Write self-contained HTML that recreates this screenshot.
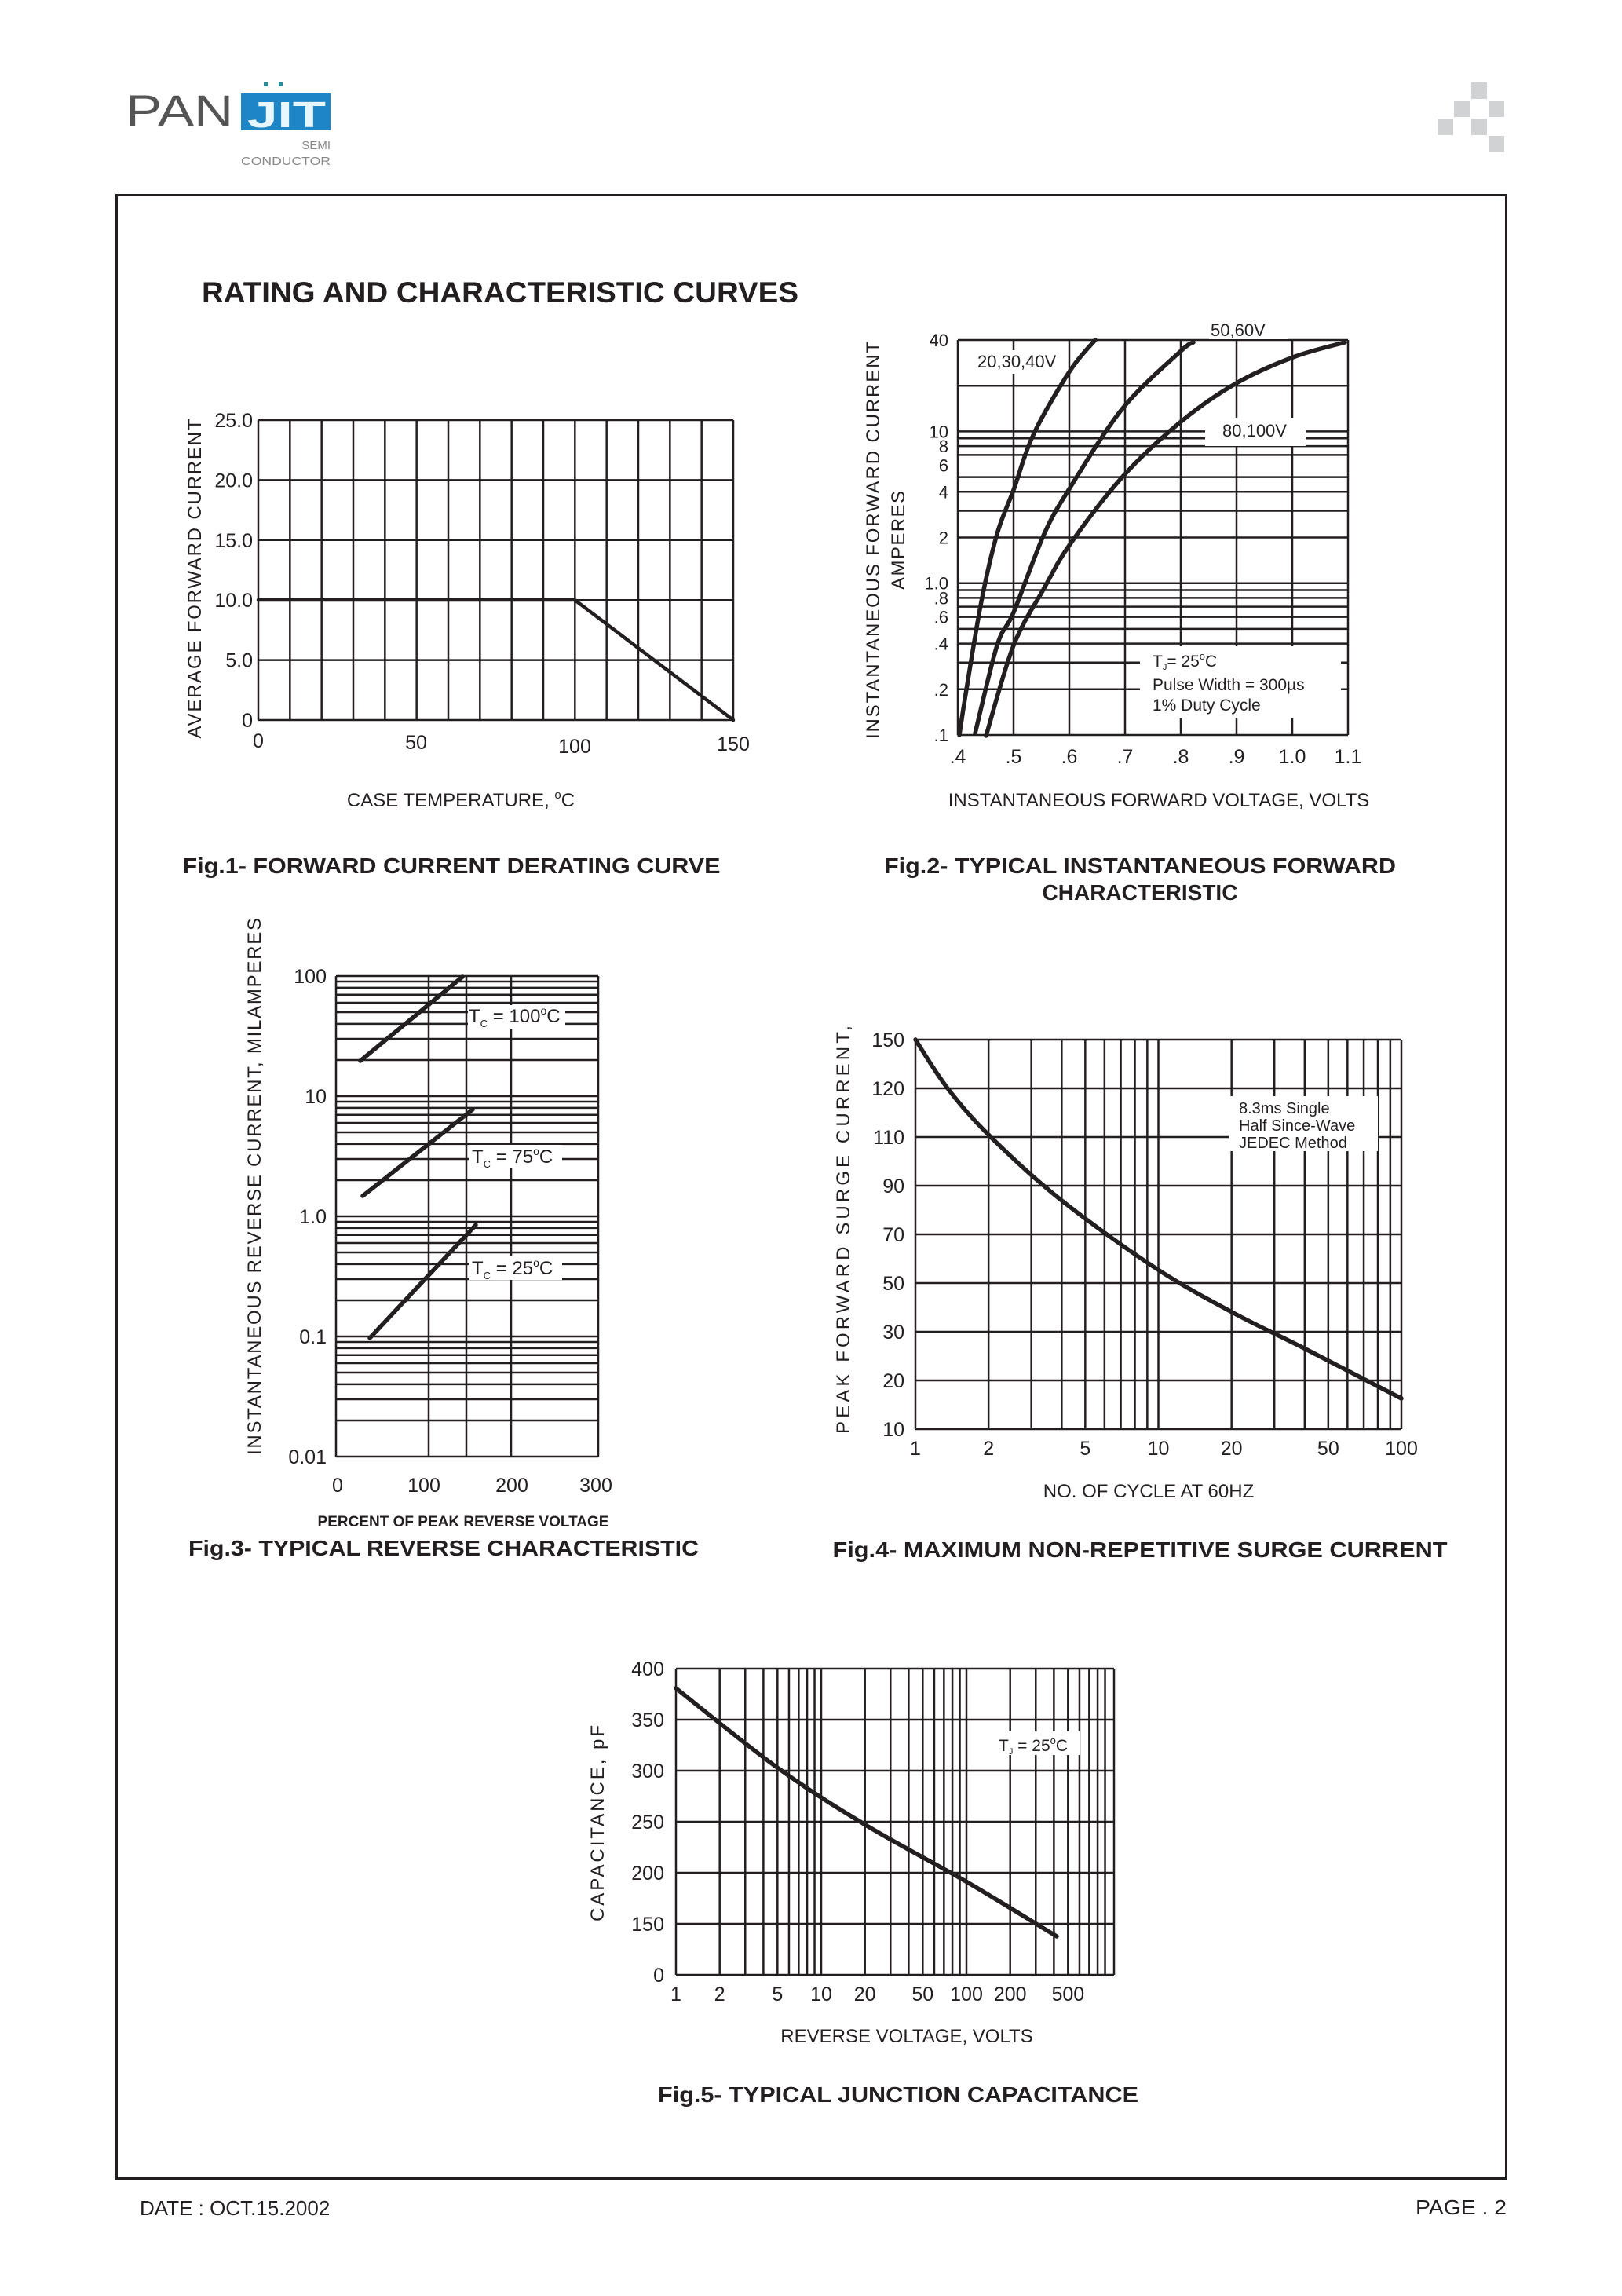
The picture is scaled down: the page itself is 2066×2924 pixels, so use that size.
<!DOCTYPE html>
<html><head><meta charset="utf-8">
<style>
html,body{margin:0;padding:0;background:#fff;}
svg{display:block;}
text{font-family:"Liberation Sans",Arial,sans-serif;fill:#231f20;}
.b{font-weight:bold;}
</style></head>
<body>
<svg id="s" xmlns="http://www.w3.org/2000/svg" width="2066" height="2924" viewBox="0 0 2066 2924">
<rect width="2066" height="2924" fill="#fff"/>
<text x="160" y="160" font-size="56" style="fill:#555" textLength="137" lengthAdjust="spacingAndGlyphs">PAN</text>
<rect x="307" y="119" width="114" height="47" fill="#1e86c6"/>
<text x="315" y="162" font-size="46" class="b" style="fill:#e8f6ff" textLength="100" lengthAdjust="spacingAndGlyphs">JIT</text>
<rect x="336" y="104" width="5" height="6" fill="#2a8a9a"/><rect x="355" y="104" width="5" height="6" fill="#2a8a9a"/>
<text x="421" y="190" font-size="15" text-anchor="end" style="fill:#888">SEMI</text>
<text x="421" y="210" font-size="15" text-anchor="end" style="fill:#888" textLength="114" lengthAdjust="spacingAndGlyphs">CONDUCTOR</text>
<g fill="#d1d2d4">
<rect x="1874" y="105" width="20" height="21"/><rect x="1852" y="128" width="20" height="21"/><rect x="1896" y="128" width="20" height="21"/>
<rect x="1831" y="151" width="20" height="21"/><rect x="1874" y="151" width="20" height="21"/><rect x="1896" y="173" width="20" height="21"/>
</g>
<rect x="148.5" y="248.5" width="1770" height="2526" fill="none" stroke="#231f20" stroke-width="3"/>
<text x="257" y="385" font-size="37" class="b" textLength="760" lengthAdjust="spacingAndGlyphs">RATING AND CHARACTERISTIC CURVES</text>
<g id="g"></g>
<text x="178" y="2821" font-size="26">DATE : OCT.15.2002</text>
<text x="1919" y="2820" font-size="26" text-anchor="end" textLength="116" lengthAdjust="spacingAndGlyphs">PAGE . 2</text>
</svg>
<script>
var g=document.getElementById('g'),out='';
function L(x1,y1,x2,y2,w){out+='<line x1="'+x1+'" y1="'+y1+'" x2="'+x2+'" y2="'+y2+'" stroke="#231f20" stroke-width="'+(w||2.5)+'"/>';}
function T(x,y,s,fs,anc,extra){out+='<text x="'+x+'" y="'+y+'" font-size="'+fs+'" text-anchor="'+(anc||'start')+'" '+(extra||'')+'>'+s+'</text>';}
function R(x,y,w,h){out+='<rect x="'+x+'" y="'+y+'" width="'+w+'" height="'+h+'" fill="#fff"/>';}
function P(pts,w){var d='M'+pts[0][0]+','+pts[0][1];for(var i=1;i<pts.length;i++){d+=' L'+pts[i][0]+','+pts[i][1];}
 out+='<path d="'+d+'" fill="none" stroke="#231f20" stroke-width="'+(w||5.5)+'" stroke-linejoin="round" stroke-linecap="round"/>';}
function smooth(pts,w){var d='M'+pts[0][0]+','+pts[0][1];for(var i=0;i<pts.length-1;i++){var p0=pts[i>0?i-1:i],p1=pts[i],p2=pts[i+1],p3=pts[i+2<pts.length?i+2:i+1];
 d+=' C'+(p1[0]+(p2[0]-p0[0])/6)+','+(p1[1]+(p2[1]-p0[1])/6)+' '+(p2[0]-(p3[0]-p1[0])/6)+','+(p2[1]-(p3[1]-p1[1])/6)+' '+p2[0]+','+p2[1];}
 out+='<path d="'+d+'" fill="none" stroke="#231f20" stroke-width="'+(w||5.5)+'" stroke-linecap="round"/>';}
function VT(x,y,s,fs,len){out+='<text transform="translate('+x+','+y+') rotate(-90)" font-size="'+fs+'" text-anchor="middle" textLength="'+len+'" lengthAdjust="spacing">'+s+'</text>';}
var i,j,x,y,d;
// Fig1
var l=329,r=934,t=535,b=917;
for(i=0;i<=15;i++){x=l+(r-l)*i/15;L(x,t,x,b);}
for(i=0;i<=5;i++){y=t+(b-t)*i/5;L(l,y,r,y);}
var yl=['25.0','20.0','15.0','10.0','5.0','0'];
for(i=0;i<=5;i++)T(322,t+(b-t)*i/5+9,yl[i],25,'end');
T(329,952,'0',25,'middle');T(530,954,'50',25,'middle');T(732,959,'100',25,'middle');T(934,956,'150',25,'middle');
P([[l,764],[732,764],[r,b]],4.5);
VT(256,737,'AVERAGE FORWARD CURRENT',24,407);
T(587,1027,'CASE TEMPERATURE, <tspan font-size="15" dy="-10">o</tspan><tspan dy="10">C</tspan>',24,'middle');
T(575,1112,'Fig.1- FORWARD CURRENT DERATING CURVE',28,'middle','class="b" textLength="685" lengthAdjust="spacingAndGlyphs"');
// Fig2
l=1220;r=1717;t=433;b=936;var dec=(b-t)/Math.log10(400);
function fy(v){return b-Math.log10(v/0.1)*dec;}
for(i=0;i<=7;i++){x=l+71*i;L(x,t,x,b);}
[40,20,10,9,8,7,5,4,3,2,1,.9,.8,.7,.6,.5,.4,.3,.2,.1].forEach(function(v){L(l,fy(v),r,fy(v));});
[['40',40],['10',10],['8',8],['6',6],['4',4],['2',2],['1.0',1],['.8',.8],['.6',.6],['.4',.4],['.2',.2],['.1',.1]].forEach(function(a){T(1208,fy(a[1])+8,a[0],22,'end');});
['.4','.5','.6','.7','.8','.9','1.0','1.1'].forEach(function(s,k){T(l+71*k,972,s,25,'middle');});
smooth([[1222,936],[1230,884],[1250,766],[1270,680],[1291,624],[1317,552],[1363,472],[1395,433]]);
smooth([[1242,934],[1270,822],[1291,780],[1330,680],[1363,621],[1430,520],[1503,448],[1520,436]]);
smooth([[1256,937],[1291,822],[1330,749],[1363,693],[1430,607],[1503,538],[1573,489],[1647,455],[1713,436]]);
R(1238,446,112,30);T(1245,468,'20,30,40V',22);
R(1540,406,100,26);T(1542,428,'50,60V',22);
R(1535,532,128,36);T(1557,556,'80,100V',22);
R(1452,823,256,92);
T(1468,849,'T<tspan font-size="11" dy="4">J</tspan><tspan dy="-4">= 25</tspan><tspan font-size="13" dy="-9">o</tspan><tspan dy="9">C</tspan>',21);
T(1468,879,'Pulse Width = 300µs',21);T(1468,905,'1% Duty Cycle',21);
VT(1120,688,'INSTANTANEOUS FORWARD CURRENT',24,506);
VT(1152,688,'AMPERES',24,126);
T(1476,1027,'INSTANTANEOUS FORWARD VOLTAGE, VOLTS',24,'middle');
T(1452,1112,'Fig.2- TYPICAL INSTANTANEOUS FORWARD',28,'middle','class="b" textLength="652" lengthAdjust="spacingAndGlyphs"');
T(1452,1146,'CHARACTERISTIC',28,'middle','class="b"');
// Fig3
l=428;r=762;t=1243;b=1855;dec=153;
function gy(v){return b-Math.log10(v/0.01)*dec;}
[l,546,594,651,r].forEach(function(x){L(x,t,x,b);});
for(d=0.01;d<99;d*=10){for(j=1;j<=9;j++)L(l,gy(d*j),r,gy(d*j));}
L(l,t,r,t);
[['100',100],['10',10],['1.0',1],['0.1',.1],['0.01',.01]].forEach(function(a){T(416,gy(a[1])+9,a[0],25,'end');});
T(430,1900,'0',25,'middle');T(540,1900,'100',25,'middle');T(652,1900,'200',25,'middle');T(759,1900,'300',25,'middle');
P([[459,1351],[589,1244]],5.5);P([[462,1523],[602,1413]],5.5);P([[471,1704],[606,1560]],5.5);
R(596,1280,124,30);R(598,1458,118,30);R(598,1600,118,30);
T(597,1302,'T<tspan font-size="13" dy="6">C</tspan><tspan dy="-6"> = 100</tspan><tspan font-size="14" dy="-10">o</tspan><tspan dy="10">C</tspan>',24);
T(601,1481,'T<tspan font-size="13" dy="6">C</tspan><tspan dy="-6"> = 75</tspan><tspan font-size="14" dy="-10">o</tspan><tspan dy="10">C</tspan>',24);
T(601,1623,'T<tspan font-size="13" dy="6">C</tspan><tspan dy="-6"> = 25</tspan><tspan font-size="14" dy="-10">o</tspan><tspan dy="10">C</tspan>',24);
VT(332,1511,'INSTANTANEOUS REVERSE CURRENT, MILAMPERES',24,684);
T(590,1944,'PERCENT OF PEAK REVERSE VOLTAGE',19,'middle','class="b"');
T(565,1981,'Fig.3- TYPICAL REVERSE CHARACTERISTIC',28,'middle','class="b" textLength="650" lengthAdjust="spacingAndGlyphs"');
// Fig4
l=1166;r=1785;t=1324;b=1820;dec=309.5;
for(d=1;d<99;d*=10)for(j=1;j<=9;j++){x=l+Math.log10(d*j)*dec;L(x,t,x,b);}
L(r,t,r,b);
var y4=['150','120','110','90','70','50','30','20','10'];
for(i=0;i<=8;i++){y=t+(b-t)*i/8;L(l,y,r,y);T(1152,y+9,y4[i],25,'end');}
[['1',1],['2',2],['5',5],['10',10],['20',20],['50',50],['100',100]].forEach(function(a){T(l+Math.log10(a[1])*dec,1853,a[0],25,'middle');});
smooth([[1166,1324],[1207,1386],[1261,1447],[1350,1527],[1472,1615],[1571,1672],[1663,1718],[1785,1781]]);
R(1565,1396,190,70);
T(1578,1418,'8.3ms Single',20);T(1578,1440,'Half Since-Wave',20);T(1578,1462,'JEDEC Method',20);
VT(1082,1566,'PEAK FORWARD SURGE CURRENT,',24,520);
T(1463,1907,'NO. OF CYCLE AT 60HZ',24,'middle');
T(1452,1983,'Fig.4- MAXIMUM NON-REPETITIVE SURGE CURRENT',28,'middle','class="b" textLength="783" lengthAdjust="spacingAndGlyphs"');
// Fig5
l=861;r=1419;t=2125;b=2515;dec=185;
for(d=1;d<999;d*=10)for(j=1;j<=9;j++){x=l+Math.log10(d*j)*dec;L(x,t,x,b);}
L(r,t,r,b);
var y5=['400','350','300','250','200','150','0'];
for(i=0;i<=6;i++){y=t+(b-t)*i/6;L(l,y,r,y);T(846,y+9,y5[i],25,'end');}
[1,2,5,10,20,50,100,200,500].forEach(function(v){T(l+Math.log10(v)*dec,2548,String(v),25,'middle');});
smooth([[861,2150],[990,2251],[1104,2325],[1232,2397],[1346,2466]]);
R(1266,2205,110,30);
T(1272,2230,'T<tspan font-size="11" dy="4">J</tspan><tspan dy="-4"> = 25</tspan><tspan font-size="13" dy="-9">o</tspan><tspan dy="9">C</tspan>',21);
VT(769,2322,'CAPACITANCE, pF',24,250);
T(1155,2601,'REVERSE VOLTAGE, VOLTS',24,'middle');
T(1144,2677,'Fig.5- TYPICAL JUNCTION CAPACITANCE',28,'middle','class="b" textLength="612" lengthAdjust="spacingAndGlyphs"');
g.innerHTML=out;
</script>
</body></html>
